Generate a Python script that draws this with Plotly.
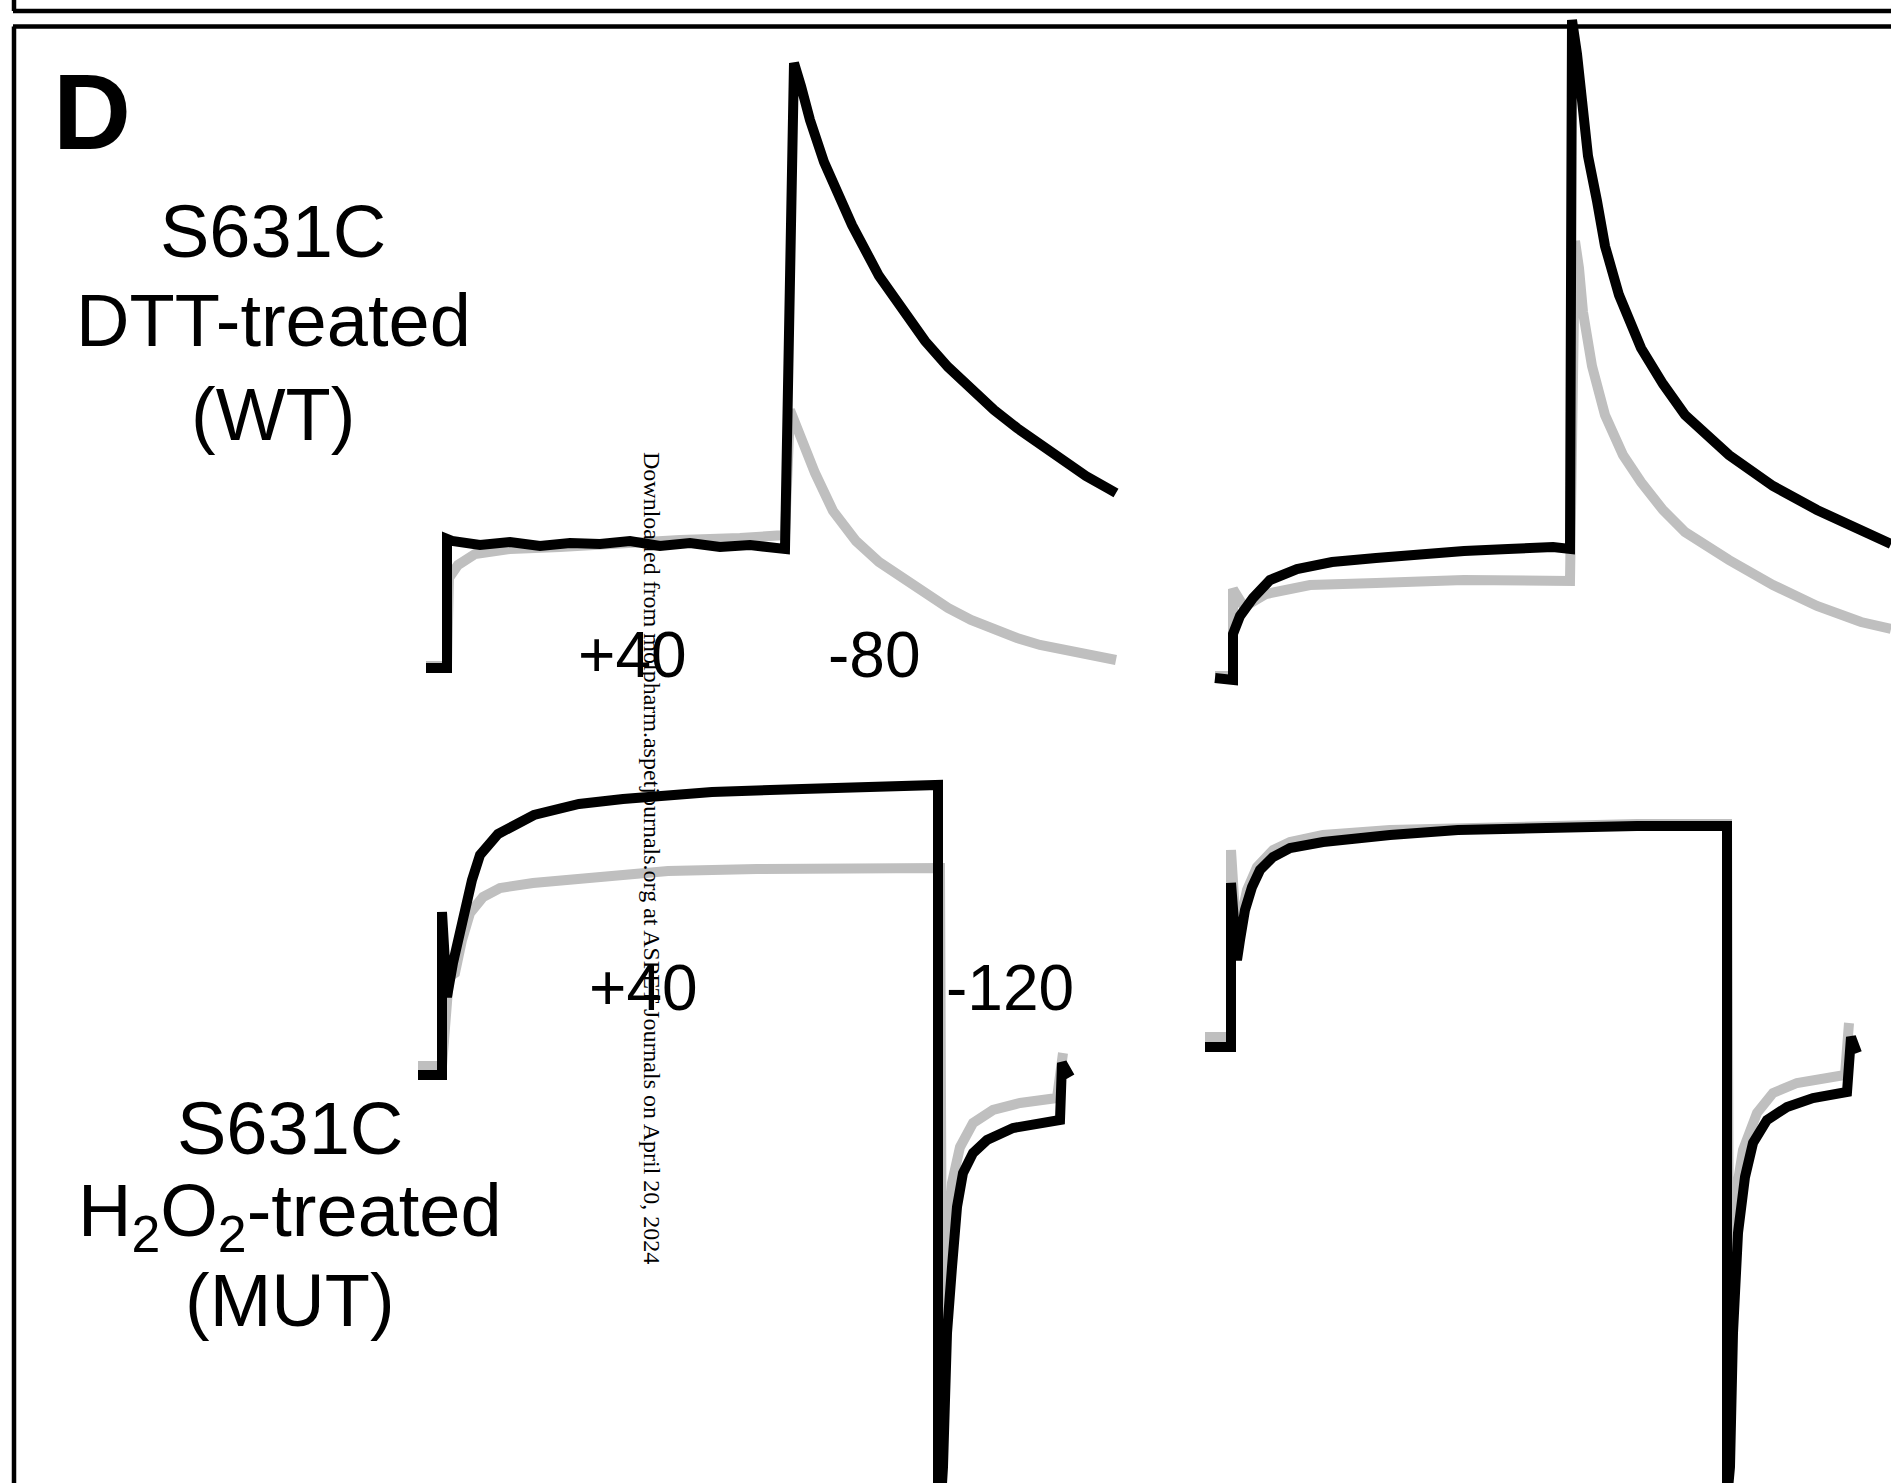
import plotly.graph_objects as go

# ---------------- data (time in ms, current in µA) ----------------
# Panel A: S631C DTT-treated (WT), +40 mV step then -80 mV tail
wt_t_black = [-63, 0, 0, 15, 99, 189, 279, 369, 459, 549, 639, 729, 819, 909, 1014,
              1041, 1062, 1089, 1131, 1158, 1215, 1296, 1380, 1434, 1503, 1572, 1641,
              1710, 1779, 1848, 1917, 1986, 2007]
wt_i_black = [0, 0, 1.29, 1.27, 1.23, 1.26, 1.22, 1.25, 1.24, 1.27, 1.22, 1.25, 1.21, 1.23, 1.19,
              6.05, 5.82, 5.48, 5.06, 4.85, 4.43, 3.92, 3.50, 3.27, 3.01, 2.78, 2.58,
              2.40, 2.23, 2.07, 1.92, 1.79, 1.75]
wt_t_gray = [-63, 0, 6, 33, 84, 189, 339, 519, 699, 879, 1014,
             1029, 1062, 1104, 1158, 1227, 1296, 1434, 1503, 1572, 1641, 1710, 1779,
             1848, 1917, 1986, 2007]
wt_i_gray = [0.02, 0.02, 0.90, 1.03, 1.14, 1.19, 1.21, 1.25, 1.28, 1.30, 1.33,
             2.58, 2.28, 1.95, 1.57, 1.27, 1.06, 0.74, 0.60, 0.48, 0.38, 0.30, 0.23,
             0.18, 0.13, 0.09, 0.08]

# Panel B: second condition, +40 / -80
b_t_black = [-54, 0, 0, 21, 60, 111, 192, 297, 429, 561, 693, 825, 960, 1011,
             1017, 1032, 1050, 1065, 1092, 1116, 1158, 1224, 1290, 1356, 1488, 1620,
             1752, 1884, 1974]
b_i_black = [0, -0.02, 0.44, 0.62, 0.80, 0.98, 1.09, 1.16, 1.20, 1.24, 1.27, 1.29, 1.31, 1.29,
             6.58, 6.24, 5.66, 5.22, 4.77, 4.32, 3.83, 3.30, 2.94, 2.63, 2.23, 1.92,
             1.68, 1.47, 1.34]
b_t_gray = [-54, 0, 0, 33, 99, 231, 429, 693, 1011,
            1026, 1038, 1050, 1077, 1116, 1170, 1224, 1290, 1356, 1488, 1620, 1752,
            1884, 1974]
b_i_gray = [0.02, 0.02, 0.89, 0.71, 0.84, 0.93, 0.95, 0.98, 0.97,
            4.37, 4.10, 3.66, 3.12, 2.63, 2.23, 1.96, 1.68, 1.46, 1.18, 0.93, 0.72,
            0.56, 0.49]

# Panel C: S631C H2O2-treated (MUT), +40 mV step then -120 mV tail
mut_t_black = [-96, 0, 0, 20, 44, 72, 100, 120, 152, 224, 368, 548, 724, 1080, 1440, 1796, 1984,
               1984, 1996, 2004, 2020, 2040, 2060, 2084, 2124, 2180, 2284, 2472, 2480, 2512]
mut_i_black = [0, 0, 1.63, 0.78, 1.12, 1.45, 1.75, 1.95, 2.20, 2.41, 2.60, 2.71, 2.76, 2.83, 2.86,
               2.89, 2.90, -4.25, -4.25, -3.92, -2.58, -1.92, -1.32, -0.98, -0.78, -0.65,
               -0.53, -0.45, 0.12, -0.02]
mut_t_gray = [-96, 0, 28, 52, 80, 112, 164, 232, 364, 500, 904, 1260, 1616, 1992,
              2000, 2020, 2040, 2072, 2124, 2204, 2312, 2460, 2484]
mut_i_gray = [0.09, 0.09, 0.98, 1.02, 1.35, 1.62, 1.78, 1.87, 1.92, 1.95, 2.04, 2.06, 2.07, 2.07,
              -2.55, -1.58, -1.08, -0.72, -0.48, -0.35, -0.28, -0.23, 0.22]

# Panel D: second condition, +40 / -120
d_t_black = [-104, 0, 0, 24, 36, 56, 84, 116, 168, 236, 368, 504, 636, 908, 1268, 1624, 1984,
             1984, 1996, 2008, 2028, 2056, 2088, 2144, 2224, 2328, 2464, 2480, 2504]
d_i_black = [0, 0, 1.64, 0.87, 1.07, 1.37, 1.60, 1.77, 1.90, 1.99, 2.05, 2.09, 2.12, 2.17, 2.20,
             2.21, 2.21, -4.53, -4.20, -2.86, -1.86, -1.30, -0.96, -0.73, -0.60, -0.51,
             -0.45, 0.10, -0.06]
d_t_gray = [-104, 0, 0, 24, 36, 64, 104, 168, 236, 368, 636, 908, 1268, 1624, 1984,
            1992, 2016, 2048, 2104, 2168, 2264, 2356, 2456, 2472]
d_i_gray = [0.10, 0.10, 1.97, 1.02, 1.24, 1.57, 1.80, 1.97, 2.05, 2.12, 2.17, 2.19, 2.22, 2.23, 2.23,
            -2.23, -1.53, -1.03, -0.66, -0.46, -0.36, -0.31, -0.28, 0.24]

row_labels_top = ["S631C", "DTT-treated", "(WT)"]
row_labels_bottom = ["S631C", "H<sub>2</sub>O<sub>2</sub>-treated", "(MUT)"]
voltage_labels_top = ["+40", "-80"]
voltage_labels_bottom = ["+40", "-120"]
panel_letter = "D"
watermark = "Downloaded from molpharm.aspetjournals.org at ASPET Journals on April 20, 2024"

# ---------------- layout geometry ----------------
W, H = 1891, 1483
BLACK = "#000000"
GRAY = "#bfbfbf"

# region (left, right, top, bottom) in px, origin (x0, y0) px, px per ms, px per µA
panels = [
    dict(region=(380, 1160, 0, 740), origin=(447, 668), sx=1 / 3, sy=100,
         data=[(wt_t_gray, wt_i_gray, GRAY), (wt_t_black, wt_i_black, BLACK)]),
    dict(region=(1160, 1891, 0, 740), origin=(1233, 678), sx=1 / 3, sy=100,
         data=[(b_t_gray, b_i_gray, GRAY), (b_t_black, b_i_black, BLACK)]),
    dict(region=(380, 1160, 740, 1483), origin=(442, 1075), sx=1 / 4, sy=100,
         data=[(mut_t_gray, mut_i_gray, GRAY), (mut_t_black, mut_i_black, BLACK)]),
    dict(region=(1160, 1891, 740, 1483), origin=(1231, 1047), sx=1 / 4, sy=100,
         data=[(d_t_gray, d_i_gray, GRAY), (d_t_black, d_i_black, BLACK)]),
]

fig = go.Figure()
layout_axes = {}
for k, p in enumerate(panels, start=1):
    L, R, T, B = p["region"]
    x0, y0 = p["origin"]
    sx, sy = p["sx"], p["sy"]
    xs = "" if k == 1 else str(k)
    layout_axes["xaxis" + xs] = dict(domain=[L / W, R / W], range=[(L - x0) / sx, (R - x0) / sx],
                                     visible=False, anchor="y" + xs, fixedrange=True)
    layout_axes["yaxis" + xs] = dict(domain=[1 - B / H, 1 - T / H], range=[(y0 - B) / sy, (y0 - T) / sy],
                                     visible=False, anchor="x" + xs, fixedrange=True)
    for t, i, c in p["data"]:
        fig.add_trace(go.Scatter(x=t, y=i, mode="lines",
                                 line=dict(color=c, width=10),
                                 xaxis="x" + xs, yaxis="y" + xs, hoverinfo="skip",
                                 showlegend=False))

FONT = "Liberation Sans, Arial, Helvetica, sans-serif"


def px_ann(text, x, y, size, bold=False, angle=0, family=FONT):
    return dict(text=f"<b>{text}</b>" if bold else text, x=x / W, y=1 - y / H,
                xref="paper", yref="paper", xanchor="center", yanchor="middle",
                showarrow=False, textangle=angle,
                font=dict(family=family, size=size, color="black"))


annotations = [px_ann(panel_letter, 92, 112, 108, bold=True)]
for txt, yy in zip(row_labels_top, [232, 321, 414]):
    annotations.append(px_ann(txt, 273, yy, 74))
for txt, yy in zip(row_labels_bottom, [1128, 1216, 1300]):
    annotations.append(px_ann(txt, 290, yy, 74))
for txt, xx in zip(voltage_labels_top, [632, 874]):
    annotations.append(px_ann(txt, xx, 655, 64))
for txt, xx in zip(voltage_labels_bottom, [643, 1010]):
    annotations.append(px_ann(txt, xx, 988, 64))
annotations.append(px_ann(watermark, 652, 858, 24, angle=90,
                          family="Liberation Serif, Times New Roman, serif"))

frame = dict(type="line", xref="paper", yref="paper", line=dict(color="black", width=4.5))
shapes = [
    dict(frame, x0=13 / W, x1=1, y0=1 - 11 / H, y1=1 - 11 / H),
    dict(frame, x0=14 / W, x1=14 / W, y0=1, y1=1 - 11 / H),
    dict(frame, x0=13 / W, x1=1, y0=1 - 26.5 / H, y1=1 - 26.5 / H),
    dict(frame, x0=14 / W, x1=14 / W, y0=1 - 26.5 / H, y1=0),
]

fig.update_layout(width=W, height=H, margin=dict(l=0, r=0, t=0, b=0),
                  paper_bgcolor="white", plot_bgcolor="rgba(0,0,0,0)",
                  annotations=annotations, shapes=shapes, showlegend=False,
                  **layout_axes)

fig.write_html("out.html", config={"displayModeBar": False},
               post_script="document.body.style.margin='0';document.body.style.overflow='hidden';")
